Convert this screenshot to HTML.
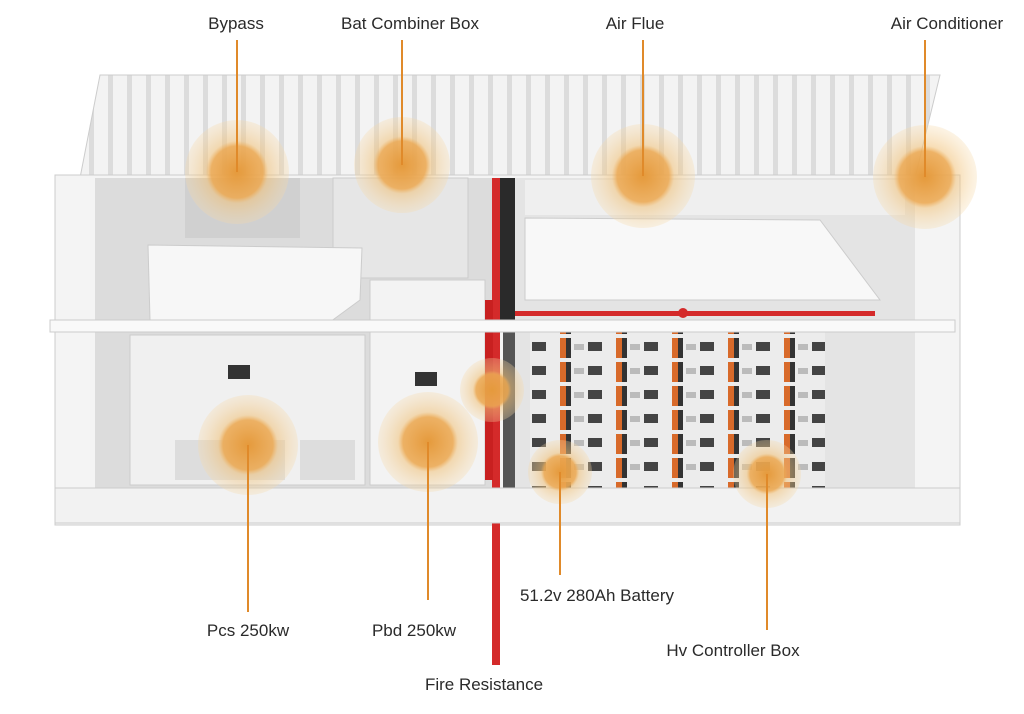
<!DOCTYPE html>
<html><head><meta charset="utf-8"><style>
html,body{margin:0;padding:0;background:#fff;}
svg{display:block}
text{font-family:"Liberation Sans",sans-serif;font-size:17px;fill:#2a2a2a;}
</style></head><body>
<svg width="1024" height="714" viewBox="0 0 1024 714" xmlns="http://www.w3.org/2000/svg">
<defs>
<radialGradient id="hs"><stop offset="0" stop-color="#e59a3c" stop-opacity="1"/><stop offset=".5" stop-color="#ecaa55" stop-opacity=".9"/><stop offset=".6" stop-color="#f1c27a" stop-opacity=".55"/><stop offset="1" stop-color="#f6d9a8" stop-opacity=".3"/></radialGradient>
<pattern id="rib" width="19" height="110" patternUnits="userSpaceOnUse"><rect width="19" height="110" fill="#f3f3f3"/><rect x="13" width="5" height="110" fill="#dcdcdc"/></pattern>
<pattern id="bat" width="56" height="24" patternUnits="userSpaceOnUse"><rect width="56" height="24" fill="#ececec"/><rect x="0" y="2" width="6" height="20" fill="#d86a2a"/><rect x="6" y="2" width="5" height="20" fill="#333"/><rect x="28" y="6" width="14" height="9" fill="#444"/><rect x="14" y="8" width="10" height="6" fill="#bbb"/></pattern>
</defs>
<polygon points="100,75 940,75 915,178 80,178" fill="url(#rib)" stroke="#ccc"/>
<rect x="55" y="175" width="905" height="350" fill="#f4f4f4" stroke="#ccc"/>
<rect x="95" y="178" width="400" height="310" fill="#dcdcdc"/>
<rect x="515" y="178" width="400" height="310" fill="#e4e4e4"/>
<rect x="185" y="178" width="115" height="60" fill="#d0d0d0"/>
<rect x="333" y="178" width="135" height="100" fill="#e6e6e6" stroke="#ccc"/>
<polygon points="148,245 362,248 360,300 330,322 150,320" fill="#f7f7f7" stroke="#ccc"/>
<rect x="130" y="335" width="235" height="150" fill="#f0f0f0" stroke="#ccc"/>
<rect x="175" y="440" width="110" height="40" fill="#ddd"/>
<rect x="300" y="440" width="55" height="40" fill="#ddd"/>
<rect x="370" y="280" width="115" height="205" fill="#f3f3f3" stroke="#ccc"/>
<rect x="228" y="365" width="22" height="14" fill="#333"/>
<rect x="415" y="372" width="22" height="14" fill="#333"/>
<polygon points="525,218 820,220 880,300 525,300" fill="#f8f8f8" stroke="#ccc"/>
<rect x="525" y="180" width="380" height="35" fill="#efefef"/>
<rect x="530" y="330" width="295" height="180" fill="url(#bat)"/>
<rect x="500" y="178" width="15" height="150" fill="#2a2a2a"/>
<rect x="503" y="330" width="12" height="180" fill="#555"/>
<rect x="492" y="178" width="8" height="487" fill="#d42a2a"/>
<rect x="485" y="300" width="8" height="180" fill="#c82020"/>
<rect x="515" y="311" width="360" height="5" fill="#d42a2a"/>
<circle cx="683" cy="313" r="5" fill="#d42a2a"/>
<rect x="50" y="320" width="905" height="12" fill="#f9f9f9" stroke="#ccc"/>
<rect x="55" y="488" width="905" height="35" fill="#f2f2f2" stroke="#ccc"/>
<g fill="url(#hs)">
<circle cx="237" cy="172" r="52"/><circle cx="402" cy="165" r="48"/><circle cx="643" cy="176" r="52"/><circle cx="925" cy="177" r="52"/>
<circle cx="248" cy="445" r="50"/><circle cx="428" cy="442" r="50"/><circle cx="492" cy="390" r="32"/><circle cx="560" cy="472" r="32"/><circle cx="767" cy="474" r="34"/>
</g>
<g stroke="#e08a2a" stroke-width="2" fill="none">
<line x1="237" y1="40" x2="237" y2="172"/><line x1="402" y1="40" x2="402" y2="165"/><line x1="643" y1="40" x2="643" y2="176"/><line x1="925" y1="40" x2="925" y2="177"/>
<line x1="248" y1="445" x2="248" y2="612"/><line x1="428" y1="442" x2="428" y2="600"/><line x1="560" y1="472" x2="560" y2="575"/><line x1="767" y1="474" x2="767" y2="630"/>
</g>
<text x="236" y="29" text-anchor="middle">Bypass</text>
<text x="410" y="29" text-anchor="middle">Bat Combiner Box</text>
<text x="635" y="29" text-anchor="middle">Air Flue</text>
<text x="947" y="29" text-anchor="middle">Air Conditioner</text>
<text x="248" y="636" text-anchor="middle">Pcs 250kw</text>
<text x="414" y="636" text-anchor="middle">Pbd 250kw</text>
<text x="484" y="690" text-anchor="middle">Fire Resistance</text>
<text x="597" y="601" text-anchor="middle">51.2v 280Ah Battery</text>
<text x="733" y="656" text-anchor="middle">Hv Controller Box</text>
</svg>
</body></html>
